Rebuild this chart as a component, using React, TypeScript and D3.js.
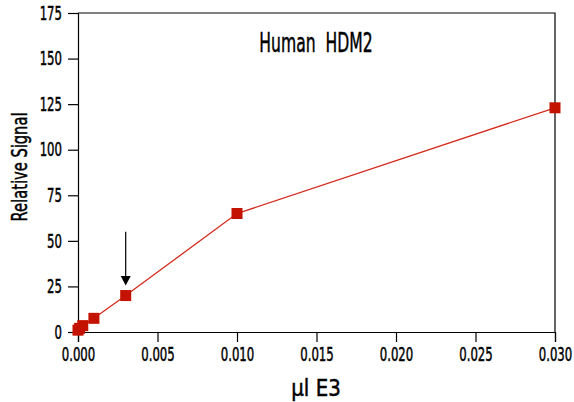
import { useRef, useEffect } from "react";
import * as d3 from "d3";

const doses = [0, 0.0001, 0.0003, 0.001, 0.003, 0.01, 0.03];
const signal = [1, 2, 3.5, 7.5, 20, 65, 123];
const xTicks = [0, 0.005, 0.01, 0.015, 0.02, 0.025, 0.03];
const yTicks = [0, 25, 50, 75, 100, 125, 150, 175];
const arrowDose = 0.003;

const W = 574;
const H = 402;
const m = { left: 78, right: 19, top: 13, bottom: 70 };
const FONT = "'DejaVu Sans', sans-serif";
const SX = 0.6; // squeeze to mimic the condensed face

export default function App() {
  const ref = useRef<SVGSVGElement>(null);

  useEffect(() => {
    const svg = d3.select(ref.current);
    svg.selectAll("*").remove();

    const x = d3.scaleLinear([0, 0.03], [m.left, W - m.right]);
    const y = d3.scaleLinear([0, 175], [H - m.bottom, m.top]);

    // frame: top and right
    svg.append("path")
      .attr("d", `M${x(0)},${y(175)}H${x(0.03)}V${y(0)}`)
      .attr("fill", "none")
      .attr("stroke", "#000")
      .attr("stroke-width", 1.2);

    const xa = svg.append("g")
      .attr("transform", `translate(0,${y(0)})`)
      .call(d3.axisBottom(x).tickValues(xTicks).tickFormat(d3.format(".3f")).tickSizeOuter(0).tickSize(10).tickPadding(5));
    const ya = svg.append("g")
      .attr("transform", `translate(${x(0)},0)`)
      .call(d3.axisLeft(y).tickValues(yTicks).tickSizeOuter(0).tickSize(10).tickPadding(6));

    [xa, ya].forEach(a => {
      a.selectAll("text")
        .attr("font-family", FONT).attr("font-size", 19.5).attr("fill", "#000")
        .attr("stroke", "#000").attr("stroke-width", 0.5)
        .attr("transform", `scale(${SX},1)`);
      a.selectAll("line, path").attr("stroke", "#000").attr("stroke-width", 1.2);
    });
    ya.selectAll("text").attr("x", -16 / SX);

    const data = doses.map((d, i) => [d, signal[i]] as [number, number]);

    svg.append("path")
      .datum(data)
      .attr("fill", "none")
      .attr("stroke", "#d42a1e")
      .attr("stroke-width", 1.3)
      .attr("d", d3.line<[number, number]>().x(d => x(d[0])).y(d => y(d[1])));

    svg.selectAll("rect.pt")
      .data(data)
      .enter()
      .append("rect")
      .attr("class", "pt")
      .attr("x", d => x(d[0]) - 5.5)
      .attr("y", d => y(d[1]) - 5.5)
      .attr("width", 11)
      .attr("height", 11)
      .attr("fill", "#c41200");

    // arrow
    const ax = x(arrowDose);
    svg.append("line")
      .attr("x1", ax).attr("x2", ax)
      .attr("y1", y(55)).attr("y2", y(28))
      .attr("stroke", "#000").attr("stroke-width", 1.2);
    svg.append("path")
      .attr("d", `M${ax - 5},${y(28) - 5}L${ax + 5},${y(28) - 5}L${ax},${y(25.5)}Z`)
      .attr("fill", "#000");

    const label = (tx: number, ty: number, rot: number, sx: number, size: number, s: string) => {
      svg.append("g")
        .attr("transform", `translate(${tx},${ty}) rotate(${rot}) scale(${sx},1)`)
        .append("text")
        .attr("text-anchor", "middle")
        .attr("font-family", FONT)
        .attr("font-size", size)
        .attr("fill", "#000")
        .attr("stroke", "#000").attr("stroke-width", 0.5)
        .style("white-space", "pre")
        .text(s);
    };

    label(316, 52, 0, 0.6, 26, "Human  HDM2");
    label(316, 396, 0, 0.86, 23, "\u00b5l E3");
    label(27, 167, -90, 0.7, 21, "Relative Signal");
  }, []);

  return (
    <svg ref={ref} width={W} height={H} style={{ position: "absolute", left: 0, top: 0, background: "#fff" }} />
  );
}
